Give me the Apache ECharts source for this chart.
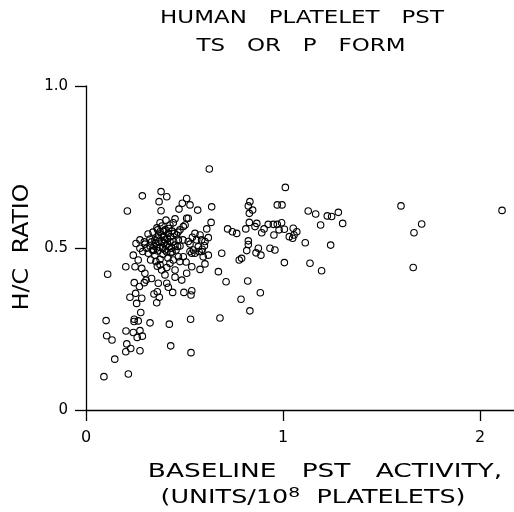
<!DOCTYPE html>
<html>
<head>
<meta charset="utf-8">
<script src="https://cdn.jsdelivr.net/npm/echarts@6/dist/echarts.min.js"></script>
<style>
html,body{margin:0;padding:0;background:#fff;}
#chart{width:514px;height:512px;}
</style>
</head>
<body>
<div id="chart"></div>
<script>
// Baseline PST activity (units/10^8 platelets)
var activity = [
0.110,0.102,0.105,0.132,0.146,0.091,0.202,0.210,0.286,0.215,0.203,0.240,0.274,0.260,0.286,0.207,0.227,0.202,0.274,0.430,
0.533,0.245,0.244,0.265,0.325,0.423,0.531,0.278,0.223,0.252,0.283,0.257,0.345,0.362,0.372,0.359,0.418,0.440,0.497,0.537,
0.533,0.245,0.271,0.296,0.305,0.537,0.553,0.587,0.689,0.604,0.579,0.672,0.711,0.452,0.486,0.410,0.680,0.821,0.885,0.787,
0.832,0.626,1.012,0.638,0.832,0.824,0.846,0.829,0.971,0.995,1.128,1.166,1.225,1.247,1.281,1.191,1.303,0.635,0.613,0.621,
0.579,0.601,0.719,0.743,0.765,0.811,0.829,0.858,0.867,0.892,0.904,0.925,0.951,0.971,0.993,0.980,1.007,0.954,1.032,1.049,
1.056,1.070,1.052,1.113,1.242,0.824,0.824,0.816,0.875,0.863,0.888,0.934,0.959,0.790,0.778,1.007,1.137,1.196,1.599,1.704,
1.665,1.661,2.112,0.381,0.410,0.371,0.381,0.511,0.489,0.528,0.472,0.567,0.511,0.519,0.376,0.443,0.494,0.503,0.553,0.540,
0.562,0.587,0.519,0.528,0.590,0.528,0.574,0.364,0.367,
0.376,0.401,0.418,0.393,0.413,0.426,0.384,0.406,0.376,0.401,0.435,0.452,0.469,0.460,0.477,0.254,0.274,0.288,0.308,0.325,
0.316,0.339,0.350,0.328,0.355,0.376,0.362,0.384,0.410,0.426,0.443,0.469,0.477,0.452,0.494,0.545,0.570,0.604,0.595,0.621,
0.537,0.511,0.401,0.367,0.333,0.299,0.283,0.249,0.265,0.240,
0.360,0.386,0.426,0.437,0.365,0.396,0.421,0.437,0.391,0.365,0.345,0.350,0.325,0.299,0.274,0.457,0.477,0.492,0.467,0.406,
0.340,0.315,0.452,0.416,0.508,0.376,0.296,0.333,0.342,
0.355,0.385,0.400,0.415,0.430,0.445,0.390,0.410,0.370,0.420,0.448,0.395,0.360,0.430,0.465
];
// H/C ratio
var hcRatio = [
0.419,0.276,0.229,0.216,0.157,0.103,0.442,0.614,0.661,0.111,0.244,0.239,0.245,0.224,0.228,0.204,0.190,0.180,0.183,0.198,
0.177,0.280,0.273,0.275,0.269,0.265,0.280,0.301,0.348,0.360,0.345,0.329,0.358,0.365,0.348,0.331,0.379,0.363,0.363,0.368,
0.355,0.393,0.381,0.393,0.401,0.484,0.484,0.489,0.484,0.451,0.434,0.427,0.396,0.410,0.401,0.391,0.284,0.398,0.362,0.342,
0.306,0.744,0.687,0.627,0.643,0.630,0.617,0.607,0.633,0.633,0.614,0.605,0.599,0.597,0.610,0.571,0.576,0.579,0.559,0.532,
0.540,0.507,0.559,0.550,0.545,0.559,0.579,0.566,0.576,0.547,0.559,0.573,0.573,0.573,0.578,0.556,0.558,0.540,0.535,0.530,
0.540,0.550,0.561,0.516,0.509,0.522,0.511,0.492,0.499,0.485,0.478,0.499,0.494,0.468,0.463,0.455,0.453,0.430,0.630,0.574,
0.547,0.440,0.616,0.674,0.658,0.643,0.615,0.653,0.638,0.633,0.620,0.617,0.592,0.592,0.578,0.578,0.566,0.571,0.545,0.533,
0.525,0.525,0.520,0.512,0.496,0.489,0.489,0.556,0.540,
0.550,0.556,0.545,0.535,0.530,0.520,0.520,0.509,0.502,0.494,0.499,0.509,0.525,0.540,0.556,0.514,0.499,0.489,0.499,0.506,
0.484,0.492,0.478,0.463,0.458,0.465,0.444,0.432,0.440,0.453,0.463,0.473,0.458,0.432,0.473,0.494,0.504,0.520,0.473,0.478,
0.442,0.422,0.417,0.391,0.406,0.422,0.437,0.442,0.463,0.478,
0.562,0.568,0.571,0.552,0.531,0.515,0.503,0.488,0.481,0.491,0.506,0.525,0.528,0.512,0.525,0.494,0.506,0.525,0.549,0.586,
0.549,0.543,0.590,0.469,0.457,0.448,0.519,0.519,0.494,
0.515,0.540,0.525,0.512,0.535,0.520,0.500,0.488,0.520,0.560,0.545,0.552,0.500,0.485,0.505
];
var xTickLabels = ['0', '1', '2'];
var yTickLabels = {0: '0', 0.5: '0.5', 1: '1.0'};

var points = activity.map(function (v, i) { return [v, hcRatio[i]]; });

var chart = echarts.init(document.getElementById('chart'), null, {renderer: 'canvas'});
var FONT = '"DejaVu Sans", sans-serif';
chart.setOption({
  backgroundColor: '#fff',
  animation: false,
  grid: {left: 86, top: 86, width: 432, height: 324, containLabel: false, outerBoundsMode: 'none'},
  xAxis: {
    type: 'value', min: 0, max: 2.193, interval: 1,
    splitLine: {show: false},
    axisLine: {show: true, onZero: false, lineStyle: {color: '#000', width: 1.3}},
    axisTick: {show: true, inside: false, length: 11, lineStyle: {color: '#000', width: 1.3}},
    axisLabel: {
      margin: 20, color: '#000', fontFamily: FONT, fontSize: 16,
      formatter: function (v) { return (Math.abs(v - Math.round(v)) < 1e-6) ? xTickLabels[Math.round(v)] : ''; }
    }
  },
  yAxis: {
    type: 'value', min: 0, max: 1, interval: 0.5,
    splitLine: {show: false},
    axisLine: {show: true, onZero: false, lineStyle: {color: '#000', width: 1.3}},
    axisTick: {show: true, inside: false, length: 11, lineStyle: {color: '#000', width: 1.3}},
    axisLabel: {
      margin: 18, color: '#000', fontFamily: FONT, fontSize: 15,
      formatter: function (v) { return yTickLabels[v] !== undefined ? yTickLabels[v] : ''; }
    }
  },
  series: [{
    type: 'scatter',
    data: points,
    symbol: 'circle',
    symbolSize: 6.5,
    itemStyle: {color: 'rgba(0,0,0,0)', borderColor: '#000', borderWidth: 1.1, opacity: 1},
    emphasis: {disabled: true}
  }],
  graphic: [
    {type: 'text', x: 302, y: 19, scaleX: 1.35, style: {text: 'HUMAN   PLATELET   PST', font: '17px ' + FONT, fill: '#000', align: 'center', verticalAlign: 'middle'}},
    {type: 'text', x: 301, y: 47, scaleX: 1.35, style: {text: 'TS   OR   P   FORM', font: '17px ' + FONT, fill: '#000', align: 'center', verticalAlign: 'middle'}},
    {type: 'text', x: 325, y: 472, scaleX: 1.39, style: {text: 'BASELINE   PST   ACTIVITY,', font: '19px ' + FONT, fill: '#000', align: 'center', verticalAlign: 'middle'}},
    {type: 'text', x: 313, y: 497, scaleX: 1.34, style: {
      text: '{a|(UNITS/10}{s|8}{a|  PLATELETS)}',
      align: 'center', verticalAlign: 'middle',
      rich: {
        a: {font: '19px ' + FONT, fill: '#000', verticalAlign: 'bottom'},
        s: {font: '14px ' + FONT, fill: '#000', verticalAlign: 'top', padding: [0, 0, 8, 0]}
      }
    }},
    {type: 'text', x: 23, y: 247, rotation: Math.PI / 2, scaleX: 1.12, style: {text: 'H/C  RATIO', font: '21px ' + FONT, fill: '#000', align: 'center', verticalAlign: 'middle'}}
  ]
});
</script>
</body>
</html>
